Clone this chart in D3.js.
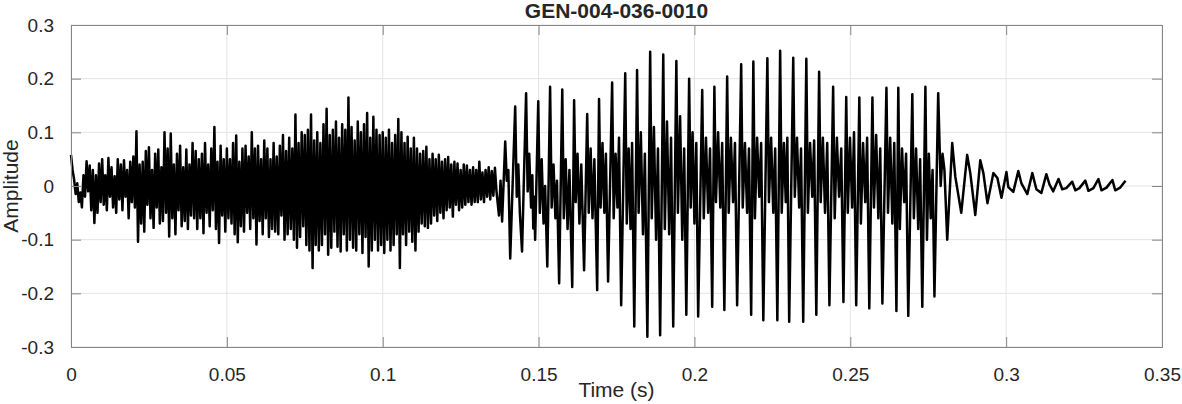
<!DOCTYPE html>
<html>
<head>
<meta charset="utf-8">
<script src="https://cdn.jsdelivr.net/npm/d3@7"></script>
<style>
  body { margin: 0; background: #fff; }
  svg text { font-family: 'Liberation Sans', Arial, sans-serif; fill: #262626; }
</style>
</head>
<body>
<script>

// eixos
const xTicks = [0, 0.05, 0.1, 0.15, 0.2, 0.25, 0.3, 0.35];
const yTicks = [-0.3, -0.2, -0.1, 0, 0.1, 0.2, 0.3];
const chartTitle = 'GEN-004-036-0010';
const xLabel = 'Time (s)';
const yLabel = 'Amplitude';

// trecho inicial (ruido), amostras a cada 0.5 ms a partir de 0
const noiseStepMs = 0.5;
const noiseAmp = [
  0.058, 0.03, 0.012, -0.015, 0.005, -0.03, -0.012, -0.04, 0.02, -0.02, 0.046, -0.01, 0.038, -0.045, 0.03, -0.069, 0.02, -0.05, 0.042, -0.03,
  0.05, -0.035, 0.02, -0.045, 0.052, -0.02, 0.035, -0.04, 0.018, -0.05, 0.05, -0.025, 0.04, -0.045, 0.048, -0.02, 0.03, -0.06, 0.045, -0.03,
  0.055, -0.04, 0.102, -0.104, 0.04, -0.07, 0.045, -0.085, 0.065, -0.035, 0.072, -0.06, 0.03, -0.078, 0.06, -0.04, 0.068, -0.07, 0.035, -0.065,
  0.1, -0.05, 0.07, -0.094, 0.098, -0.06, 0.04, -0.09, 0.06, -0.045, 0.075, -0.075, 0.035, -0.065, 0.068, -0.08, 0.04, -0.055, 0.08, -0.06,
  0.065, -0.08, 0.05, -0.06, 0.06, -0.088, 0.08, -0.05, 0.04, -0.075, 0.07, -0.045, 0.11, -0.08, 0.045, -0.106, 0.075, -0.055, 0.05, -0.085,
  0.07, -0.06, 0.05, -0.07, 0.08, -0.09, 0.094, -0.105, 0.045, -0.075, 0.07, -0.085, 0.075, -0.05, 0.055, -0.08, 0.1, -0.06, 0.07, -0.109,
  0.075, -0.065, 0.05, -0.09, 0.085, -0.06, 0.07, -0.095, 0.05, -0.08, 0.08, -0.085, 0.055, -0.09, 0.075, -0.055, 0.095, -0.1, 0.065, -0.09,
  0.09, -0.08, 0.07, -0.1, 0.133, -0.115, 0.08, -0.095, 0.1, -0.075, 0.095, -0.11, 0.105, -0.12, 0.133, -0.153, 0.085, -0.11, 0.1, -0.12,
  0.08, -0.11, 0.115, -0.09, 0.144, -0.128, 0.095, -0.115, 0.105, -0.085, 0.12, -0.113, 0.09, -0.122, 0.115, -0.09, 0.105, -0.12, 0.165, -0.1,
  0.11, -0.115, 0.085, -0.12, 0.12, -0.09, 0.1, -0.125, 0.115, -0.095, 0.136, -0.15, 0.09, -0.12, 0.129, -0.1, 0.105, -0.12, 0.095, -0.11,
  0.1, -0.125, 0.09, -0.1, 0.105, -0.12, 0.08, -0.11, 0.095, -0.09, 0.125, -0.153, 0.1, -0.09, 0.08, -0.11, 0.092, -0.085, 0.07, -0.104,
  0.09, -0.12, 0.07, -0.085, 0.06, -0.07, 0.065, -0.075, 0.073, -0.078, 0.05, -0.07, 0.06, -0.055, 0.05, -0.065, 0.058, -0.05, 0.045, -0.06,
  0.05, -0.045, 0.054, -0.04, 0.04, -0.057, 0.045, -0.035, 0.042, -0.045, 0.03, -0.04, 0.04, -0.035, 0.038, -0.03, 0.03, -0.035, 0.035, -0.03,
  0.03, -0.03, 0.045, -0.025, 0.025, -0.03, 0.03, -0.02, 0.035, -0.025, 0.028, -0.018, 0.034, -0.01
];

// trecho vozeado: [tempo em ms, amplitude]
const voiced = [
  [137.3,-0.055],[137.8,0.01],[138.3,-0.066],
  [139.3,0.083],[139.8,0.01],[140.3,0.03],[140.9,-0.135],
  [142.5,0.148],[143.0,-0.02],[143.5,0.04],[144.0,-0.05],[144.7,-0.122],
  [146.0,0.173],[146.5,-0.01],[147.0,0.06],[147.6,-0.04],[148.0,0.02],[148.3,-0.079],[148.6,-0.02],[148.9,-0.1],
  [149.9,0.158],[150.4,-0.05],[151.0,0.05],[151.6,-0.07],[152.1,0.0],[152.8,-0.150],
  [153.7,0.185],[154.2,-0.04],[154.8,0.04],[155.4,-0.06],[155.9,0.01],[156.6,-0.181],
  [157.6,0.180],[158.1,-0.06],[158.7,0.05],[159.3,-0.08],[159.9,0.03],[160.8,-0.188],
  [161.4,0.160],[161.9,-0.03],[162.5,0.06],[163.1,-0.07],[163.7,0.04],[164.6,-0.157],
  [165.6,0.134],[166.1,-0.05],[166.7,0.07],[167.3,-0.06],[167.9,0.05],[168.8,-0.194],
  [169.4,0.162],[169.9,-0.04],[170.5,0.08],[171.1,-0.05],[171.6,0.06],[172.3,-0.178],
  [173.6,0.193],[174.1,-0.06],[174.7,0.06],[175.3,-0.04],[175.8,0.09],[176.5,-0.222],
  [177.8,0.210],[178.3,-0.07],[178.9,0.07],[179.5,-0.08],[180.0,0.08],[180.7,-0.262],
  [181.6,0.216],[182.1,-0.05],[182.8,0.1],[183.5,-0.09],[184.1,0.06],[184.9,-0.281],
  [185.8,0.250],[186.3,-0.06],[187.0,0.11],[187.7,-0.1],[188.3,0.07],[189.0,-0.278],
  [190.0,0.245],[190.5,-0.08],[191.2,0.12],[191.9,-0.09],[192.5,0.09],[193.2,-0.262],
  [194.2,0.233],[194.7,-0.05],[195.4,0.13],[196.1,-0.1],[196.7,0.07],[197.4,-0.240],
  [198.3,0.200],[198.8,-0.04],[199.4,0.1],[200.0,-0.07],[200.6,0.08],[201.2,-0.243],
  [202.5,0.179],[203.0,-0.06],[203.7,0.09],[204.4,-0.05],[205.0,0.07],[205.7,-0.225],
  [206.4,0.185],[206.9,-0.03],[207.6,0.1],[208.3,-0.04],[208.9,0.08],[209.6,-0.231],
  [210.5,0.204],[211.0,-0.05],[211.7,0.09],[212.4,-0.03],[213.0,0.08],[213.7,-0.222],
  [215.0,0.227],[215.5,-0.04],[216.2,0.08],[216.9,-0.05],[217.5,0.07],[218.2,-0.240],
  [218.9,0.232],[219.4,-0.06],[220.1,0.09],[220.8,-0.02],[221.4,0.08],[222.1,-0.250],
  [223.4,0.238],[223.9,-0.03],[224.6,0.09],[225.3,-0.05],[225.9,0.07],[226.6,-0.250],
  [227.5,0.252],[228.0,-0.05],[228.7,0.08],[229.3,-0.03],[229.8,0.09],[230.4,-0.253],
  [231.7,0.239],[232.2,-0.02],[232.9,0.09],[233.6,-0.04],[234.2,0.07],[234.9,-0.253],
  [235.9,0.237],[236.4,-0.05],[237.1,0.08],[237.8,-0.02],[238.4,0.085],[239.1,-0.240],
  [240.0,0.213],[240.5,-0.03],[241.2,0.09],[241.9,-0.05],[242.6,0.08],[243.3,-0.222],
  [244.5,0.185],[245.0,-0.06],[245.7,0.09],[246.4,-0.02],[247.1,0.07],[247.8,-0.216],
  [248.7,0.166],[249.2,-0.05],[249.9,0.09],[250.6,-0.04],[251.2,0.1],[251.9,-0.222],
  [252.9,0.165],[253.4,-0.07],[254.1,0.08],[254.8,-0.03],[255.4,0.09],[256.1,-0.228],
  [257.1,0.165],[257.6,-0.04],[258.3,0.095],[259.0,-0.06],[259.6,0.07],[260.3,-0.219],
  [261.6,0.183],[262.1,-0.05],[262.8,0.09],[263.5,-0.07],[264.1,0.08],[264.8,-0.233],
  [265.4,0.183],[265.9,-0.08],[266.6,0.07],[267.3,-0.03],[267.9,0.06],[268.6,-0.242],
  [269.9,0.171],[270.4,-0.06],[271.1,0.07],[271.8,-0.08],[272.4,0.05],[273.1,-0.225],
  [274.1,0.185],[274.6,-0.1],[275.2,0.06],[275.8,-0.06],[276.4,0.03],[277.0,-0.206],
  [278.2,0.173]
];

// decaimento final: [tempo em ms, amplitude]
const decay = [
  [279.0,0.0],[279.6,0.06],[280.2,0.03],[281.1,-0.10],[282.7,0.08],[283.7,0.017],[284.3,-0.004],
  [285.6,-0.05],[287.5,0.058],[288.5,0.024],[290.1,-0.054],[291.7,0.048],[292.7,0.024],[294.0,-0.032],
  [295.9,0.024],[297.2,0.015],[298.5,-0.022],[300.1,0.026],[300.7,-0.002],[302.3,-0.011],[303.9,0.028],
  [304.9,0.005],[306.8,-0.015],[308.4,0.024],[309.7,-0.006],[311.3,-0.013],[312.9,0.022],[313.9,0.003],
  [315.1,-0.01],[316.8,0.013],[318.0,-0.006],[319.3,-0.004],[321.2,0.008],[322.2,-0.008],[323.5,-0.004],
  [325.4,0.01],[326.4,-0.009],[328.0,-0.004],[329.6,0.013],[330.6,-0.008],[332.2,-0.003],[334.1,0.011],
  [335.0,-0.008],[336.6,-0.003],[338.3,0.01]
];

let width = 1182, height = 404;
let margin = {top: 25, right: 20, bottom: 57, left: 71};

let svg = d3.select('body').append('svg')
  .attr('width', width)
  .attr('height', height);

let x = d3.scaleLinear()
  .domain([0, 0.35])
  .range([margin.left, width - margin.right]);

let y = d3.scaleLinear()
  .domain([-0.3, 0.3])
  .range([height - margin.bottom, margin.top]);

// junta os trechos num unico sinal (tempo em s)
let signal = noiseAmp.map((a, i) => [i * noiseStepMs / 1000, a])
  .concat(voiced.map(d => [d[0] / 1000, d[1]]))
  .concat(decay.map(d => [d[0] / 1000, d[1]]));

// grade
svg.append('g')
  .selectAll('line')
  .data(xTicks)
  .enter().append('line')
    .attr('x1', d => x(d)).attr('x2', d => x(d))
    .attr('y1', margin.top).attr('y2', height - margin.bottom)
    .attr('stroke', '#e3e3e3');

svg.append('g')
  .selectAll('line')
  .data(yTicks)
  .enter().append('line')
    .attr('x1', margin.left).attr('x2', width - margin.right)
    .attr('y1', d => y(d)).attr('y2', d => y(d))
    .attr('stroke', '#e3e3e3');

// forma de onda
let line = d3.line()
  .x(d => x(d[0]))
  .y(d => y(d[1]));

svg.append('path')
  .datum(signal)
  .attr('fill', 'none')
  .attr('stroke', '#000')
  .attr('stroke-width', 2.5)
  .attr('stroke-linejoin', 'round')
  .attr('d', line);

// eixos com marcas para dentro, nos quatro lados
let tickLen = 10;
let fmt = d => String(d);

let xBottom = svg.append('g')
  .attr('transform', 'translate(0,' + (height - margin.bottom) + ')')
  .call(d3.axisBottom(x).tickValues(xTicks).tickSize(-tickLen).tickPadding(11 + tickLen).tickFormat(fmt));

let xTop = svg.append('g')
  .attr('transform', 'translate(0,' + margin.top + ')')
  .call(d3.axisTop(x).tickValues(xTicks).tickSize(-tickLen).tickFormat(''));

let yLeft = svg.append('g')
  .attr('transform', 'translate(' + margin.left + ',0)')
  .call(d3.axisLeft(y).tickValues(yTicks).tickSize(-tickLen).tickPadding(7 + tickLen).tickFormat(fmt));

let yRight = svg.append('g')
  .attr('transform', 'translate(' + (width - margin.right) + ',0)')
  .call(d3.axisRight(y).tickValues(yTicks).tickSize(-tickLen).tickFormat(''));

[xBottom, xTop, yLeft, yRight].forEach(g => {
  g.select('.domain').attr('stroke', '#868686');
  g.selectAll('.tick line').attr('stroke', '#868686');
  g.selectAll('.tick text')
    .style('font-size', '19px')
    .attr('fill', '#262626');
});

// titulo e rotulos
svg.append('text')
  .attr('x', (margin.left + width - margin.right) / 2)
  .attr('y', 18)
  .attr('text-anchor', 'middle')
  .style('font-size', '21px')
  .style('font-weight', 'bold')
  .attr('fill', '#000')
  .text(chartTitle);

svg.append('text')
  .attr('x', (margin.left + width - margin.right) / 2)
  .attr('y', 397)
  .attr('text-anchor', 'middle')
  .style('font-size', '21px')
  .text(xLabel);

svg.append('text')
  .attr('transform', 'translate(18,' + y(0) + ') rotate(-90)')
  .attr('text-anchor', 'middle')
  .style('font-size', '21px')
  .text(yLabel);

</script>
</body>
</html>
